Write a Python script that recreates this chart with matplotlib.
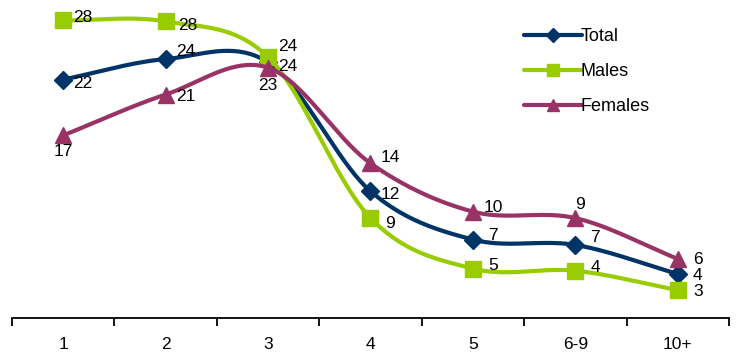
import numpy as np
import matplotlib.pyplot as plt

categories = ["1", "2", "3", "4", "5", "6-9", "10+"]

total = [22.2, 24.1, 23.8, 11.8, 7.3, 6.8, 4.1]
males = [27.7, 27.6, 24.3, 9.3, 4.6, 4.4, 2.6]
females = [17.0, 20.8, 23.3, 14.4, 9.9, 9.3, 5.5]

# label offsets (pixels) per point
total_off = [(20, -4), (20, 8), (20, -4), (20, -3), (20, 4), (20, 7), (20, -2)]
males_off = [(20, 3), (22, -4), (20, 10), (20, -5), (20, 3), (20, 3), (20, -1)]
females_off = [(0, -16), (20, -2), (0, -18), (20, 6), (20, 4), (5, 14), (20, -1)]

NAVY = "#003366"
GREEN = "#99CC00"
PLUM = "#993366"


def smooth(xs, ys, n=40):
    # Catmull-Rom style smoothing through every point
    xs = np.asarray(xs, float)
    ys = np.asarray(ys, float)
    px = np.concatenate([[2 * xs[0] - xs[1]], xs, [2 * xs[-1] - xs[-2]]])
    py = np.concatenate([[2 * ys[0] - ys[1]], ys, [2 * ys[-1] - ys[-2]]])
    outx, outy = [], []
    t = np.linspace(0, 1, n)
    for i in range(1, len(px) - 2):
        p0, p1, p2, p3 = [np.array([px[j], py[j]]) for j in range(i - 1, i + 3)]
        c1 = p1 + (p2 - p0) / 6
        c2 = p2 - (p3 - p1) / 6
        seg = ((1 - t) ** 3)[:, None] * p1 + (3 * (1 - t) ** 2 * t)[:, None] * c1 \
            + (3 * (1 - t) * t ** 2)[:, None] * c2 + (t ** 3)[:, None] * p2
        outx.extend(seg[:, 0])
        outy.extend(seg[:, 1])
    return outx, outy


plt.rcParams['font.family'] = ['Liberation Sans', 'DejaVu Sans']

fig = plt.figure(figsize=(7.36, 3.54), dpi=100)
ax = fig.add_axes([12 / 736, 36 / 354, 717 / 736, 318 / 354])

x = np.arange(len(categories))
series = [
    ("Total", total, NAVY, "D", 9, total_off),
    ("Males", males, GREEN, "s", 11, males_off),
    ("Females", females, PLUM, "^", 11, females_off),
]

for name, vals, col, mk, ms, offs in series:
    sx, sy = smooth(x, vals)
    ax.plot(sx, sy, color=col, lw=3, solid_capstyle="round", clip_on=False)
    ax.plot(x, vals, ls="none", marker=mk, ms=ms, color=col, clip_on=False)
    ax.plot([], [], color=col, lw=3, marker=mk, ms=ms - 2, label=name,
            solid_capstyle="round")
    for xi, v, (dx, dy) in zip(x, vals, offs):
        ax.annotate(f"{v:.0f}", (xi, v), xytext=(dx, dy), textcoords="offset pixels",
                    ha="center", va="center", fontsize=12.5, color="black")

ax.set_xlim(-0.5, 6.5)
ax.set_ylim(0, 29.6)
ax.set_yticks([])
for s in ["left", "right", "top"]:
    ax.spines[s].set_visible(False)
ax.spines["bottom"].set_linewidth(1.3)

ax.set_xticks(x)
ax.set_xticklabels(categories, fontsize=12.5)
ax.tick_params(axis="x", which="major", length=0, pad=14)
ax.set_xticks(np.arange(-0.5, 7, 1), minor=True)
ax.tick_params(axis="x", which="minor", length=6, width=1.3, direction="out")

leg = fig.legend(loc="upper left", bbox_to_anchor=(508 / 736, 1 - 12 / 354),
                 frameon=False, fontsize=13, handlelength=3.2, handletextpad=-0.1,
                 labelspacing=1.0, numpoints=1)

fig.savefig("out.png", dpi=100)
